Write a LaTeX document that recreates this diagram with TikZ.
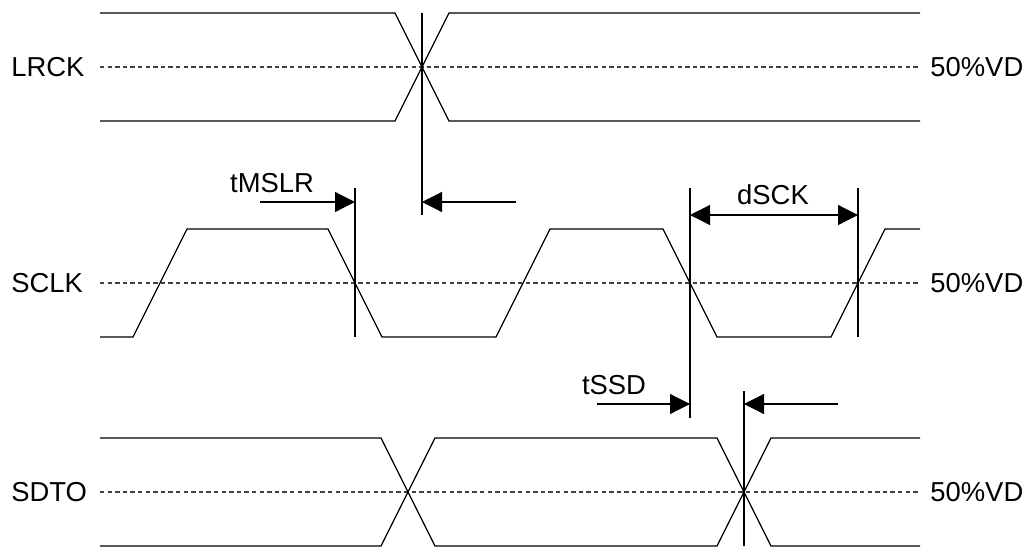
\documentclass[tikz,border=0pt]{standalone}
\usepackage{fontspec}
\setmainfont{Liberation Sans}
\usetikzlibrary{arrows.meta}
\tikzset{
  wave/.style={line width=0.6pt},
  mark50/.style={line width=0.6pt, black!75, dash pattern=on 2.2pt off 1.6pt},
  tick/.style={line width=0.6pt},
  lbl/.style={inner sep=0pt, font=\fontsize{13.7}{16}\selectfont},
  timing/.style={line width=0.6pt, -{Triangle[length=10pt,width=10pt]}},
  period/.style={line width=0.6pt, {Triangle[length=10pt,width=10pt]}-{Triangle[length=10pt,width=10pt]}}
}
\begin{document}
\begin{tikzpicture}[x=0.5pt, y=-0.5pt]
  \useasboundingbox (0,0) rectangle (1032,552);
  %signal names
  \node[lbl, anchor=west] at (11,67) (lrck) {LRCK};
  \node[lbl, anchor=west] at (11,283) (sclk) {SCLK};
  \node[lbl, anchor=west] at (11,492) (sdto) {SDTO};
  \node[lbl, anchor=west] at (930,67) (vdA) {50\%VD};
  \node[lbl, anchor=west] at (930,283) (vdB) {50\%VD};
  \node[lbl, anchor=west] at (930,492) (vdC) {50\%VD};
  %50% levels
  \draw[mark50] (100,67) -- (920,67);
  \draw[mark50] (100,283) -- (920,283);
  \draw[mark50] (100,492) -- (920,492);
  %waveforms
  \draw[wave] (100,13) -- (395,13) -- (449,121) -- (920,121);
  \draw[wave] (100,121) -- (395,121) -- (449,13) -- (920,13);
  \draw[wave] (100,337) -- (133,337) -- (187,229) -- (328,229) -- (382,337) -- (496,337)
    -- (550,229) -- (663,229) -- (717,337) -- (831,337) -- (885,229) -- (920,229);
  \draw[wave] (100,438) -- (381,438) -- (435,546) -- (717,546) -- (771,438) -- (920,438);
  \draw[wave] (100,546) -- (381,546) -- (435,438) -- (717,438) -- (771,546) -- (920,546);
  %edge markers
  \coordinate (lrEdge) at (422,202);
  \coordinate (scFall) at (355,202);
  \coordinate (scA) at (690,215);
  \coordinate (scB) at (858,215);
  \coordinate (scC) at (690,404);
  \coordinate (sdEdge) at (744,404);
  \draw[tick] (422,13) -- (422,215);
  \draw[tick] (355,188) -- (355,337);
  \draw[tick] (690,188) -- (690,418);
  \draw[tick] (858,188) -- (858,337);
  \draw[tick] (744,391) -- (744,546);
  %timing arrows
  \coordinate (msFrom) at (260,202);
  \coordinate (lrFrom) at (516,202);
  \coordinate (ssFrom) at (597,404);
  \coordinate (sdFrom) at (838,404);
  \draw[timing] (msFrom) -- (scFall);
  \draw[timing] (lrFrom) -- (lrEdge);
  \draw[period] (scA) -- (scB);
  \draw[timing] (ssFrom) -- (scC);
  \draw[timing] (sdFrom) -- (sdEdge);
  \node[lbl] at (272,183) (tmslr) {tMSLR};
  \node[lbl] at (773,195) (dsck) {dSCK};
  \node[lbl] at (614,385) (tssd) {tSSD};
\end{tikzpicture}
\end{document}
